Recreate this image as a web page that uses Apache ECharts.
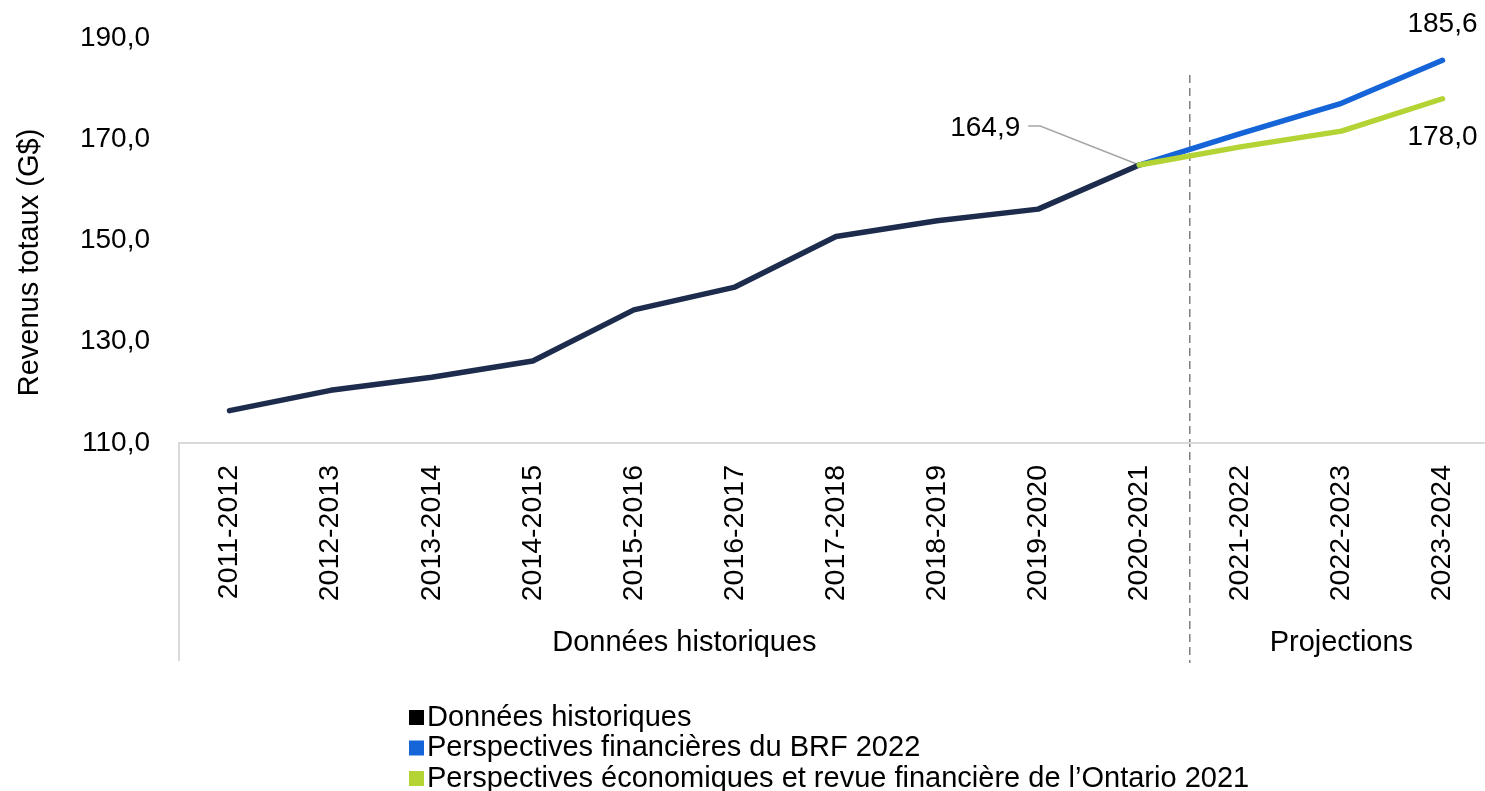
<!DOCTYPE html>
<html>
<head>
<meta charset="utf-8">
<script src="https://cdn.jsdelivr.net/npm/echarts@6/dist/echarts.min.js"></script>
<style>
  html, body { margin: 0; padding: 0; background: #fff; overflow: hidden; }
  /* the plot runs a few pixels past the right edge of the picture, as in the source */
  #chart { width: 1493px; height: 791px; }
</style>
</head>
<body>
<div id="chart"></div>
<script>
// categories (fiscal years)
const years = ["2011-2012", "2012-2013", "2013-2014", "2014-2015", "2015-2016", "2016-2017", "2017-2018",
  "2018-2019", "2019-2020", "2020-2021", "2021-2022", "2022-2023", "2023-2024"];
// total revenue, $B
const historical = [116.4, 120.4, 123.0, 126.2, 136.3, 140.8, 150.8, 153.9, 156.2, 164.9, null, null, null];
const brf2022 = [null, null, null, null, null, null, null, null, null, 164.9, 171.1, 177.1, 185.6];
const ontario2021 = [null, null, null, null, null, null, null, null, null, 164.9, 168.5, 171.6, 178.0];
const groups = [
  { name: "Données historiques", from: 0, to: 9 },
  { name: "Projections", from: 10, to: 12 },
];
const yTicks = { min: 110, max: 190, interval: 20 };
const calloutIndex = 9;

const FONT = "'Liberation Sans', Arial, sans-serif";
const fmt = (v) => v.toFixed(1).replace(".", ",");

const NAVY = "#1d2c4c";
const BLUE = "#1565d8";
const GREEN = "#b4d334";

const chart = echarts.init(document.getElementById("chart"));

function withLabel(values, idx, label) {
  return values.map((v, i) => (i === idx ? { value: v, label: Object.assign({ show: true }, label) } : v));
}

const seriesLabel = { show: false, fontSize: 28, color: "#000", fontFamily: FONT, formatter: (p) => fmt(p.value) };

chart.setOption({
  animation: false,
  textStyle: { fontFamily: FONT },
  grid: { left: 179, top: 38, right: 0, height: 405, containLabel: false },
  legend: {
    orient: "vertical",
    left: 404,
    top: 698,
    height: 140,
    itemWidth: 15,
    itemHeight: 15,
    itemGap: 1.5,
    icon: "rect",
    textStyle: { fontSize: 29, color: "#000", fontFamily: FONT, padding: [0, 0, 0, -2] },
    data: [
      { name: "Données historiques", itemStyle: { color: "#000" } },
      { name: "Perspectives financières du BRF 2022" },
      { name: "Perspectives économiques et revue financière de l’Ontario 2021" },
    ],
  },
  xAxis: {
    type: "category",
    data: years,
    boundaryGap: true,
    axisLine: { lineStyle: { color: "#d9d9d9", width: 2 } },
    axisTick: { show: false },
    axisLabel: { rotate: 90, fontSize: 28.5, color: "#000", margin: 22, fontFamily: FONT, interval: 0 },
    splitLine: { show: false },
  },
  yAxis: {
    type: "value",
    min: yTicks.min,
    max: yTicks.max,
    interval: yTicks.interval,
    name: "Revenus totaux (G$)",
    nameLocation: "middle",
    nameRotate: 90,
    nameGap: 135,
    nameTextStyle: { fontSize: 29, color: "#000", fontFamily: FONT, padding: [0, 44, 0, 0] },
    axisLine: { show: false },
    axisTick: { show: false },
    splitLine: { show: false },
    axisLabel: { fontSize: 28, color: "#000", margin: 29, fontFamily: FONT, formatter: fmt },
  },
  series: [
    {
      name: "Données historiques",
      type: "line",
      data: withLabel(historical, calloutIndex, { position: "left", distance: 5 }),
      symbol: "circle",
      symbolSize: 0,
      lineStyle: { color: NAVY, width: 5.5, cap: "round", join: "round" },
      itemStyle: { color: NAVY },
      label: seriesLabel,
      labelLayout: (p) => (p.dataIndex === calloutIndex ? { dx: -114, dy: -37 } : {}),
      emphasis: { disabled: true },
    },
    {
      name: "Perspectives financières du BRF 2022",
      type: "line",
      data: withLabel(brf2022, 12, { position: "top", distance: 22 }),
      symbol: "circle",
      symbolSize: 0,
      lineStyle: { color: BLUE, width: 5.5, cap: "round", join: "round" },
      itemStyle: { color: BLUE },
      label: seriesLabel,
      emphasis: { disabled: true },
    },
    {
      name: "Perspectives économiques et revue financière de l’Ontario 2021",
      type: "line",
      data: withLabel(ontario2021, 12, { position: "bottom", distance: 25 }),
      symbol: "circle",
      symbolSize: 0,
      lineStyle: { color: GREEN, width: 5.5, cap: "round", join: "round" },
      itemStyle: { color: GREEN },
      label: seriesLabel,
      emphasis: { disabled: true },
    },
  ],
});

// group boxes under the category axis and the callout leader, placed from the axis scale
function drawDecorations() {
  const xAt = (i) => chart.convertToPixel({ xAxisIndex: 0 }, i);
  const band = xAt(1) - xAt(0);
  const yBase = chart.convertToPixel({ yAxisIndex: 0 }, yTicks.min);
  const yTop = chart.convertToPixel({ yAxisIndex: 0 }, yTicks.max);
  const bottom = yBase + 218;
  const elements = [];
  groups.forEach((g, gi) => {
    const x0 = xAt(g.from) - band / 2;
    const x1 = xAt(g.to) + band / 2;
    if (gi === 0) {
      elements.push({
        type: "line",
        shape: { x1: x0, y1: yBase, x2: x0, y2: bottom },
        style: { stroke: "#d9d9d9", lineWidth: 2 },
      });
    } else {
      elements.push({
        type: "line",
        shape: { x1: x0, y1: yTop + 37, x2: x0, y2: bottom + 2 },
        style: { stroke: "#7f7f7f", lineWidth: 1.5, lineDash: [8, 5] },
      });
    }
    elements.push({
      type: "text",
      x: (x0 + x1) / 2,
      y: yBase + 200,
      style: { text: g.name, font: "29px " + FONT, fill: "#000", align: "center", verticalAlign: "middle" },
    });
  });
  // leader line from the 164,9 label to its point
  const [px, py] = chart.convertToPixel({ seriesIndex: 0 }, [calloutIndex, historical[calloutIndex]]);
  elements.push({
    type: "polyline",
    shape: { points: [[px - 111, py - 39], [px - 99, py - 39], [px, py]] },
    style: { stroke: "#a6a6a6", lineWidth: 1.5, fill: null },
    z: 1,
  });
  chart.setOption({ graphic: elements });
}
drawDecorations();
</script>
</body>
</html>
